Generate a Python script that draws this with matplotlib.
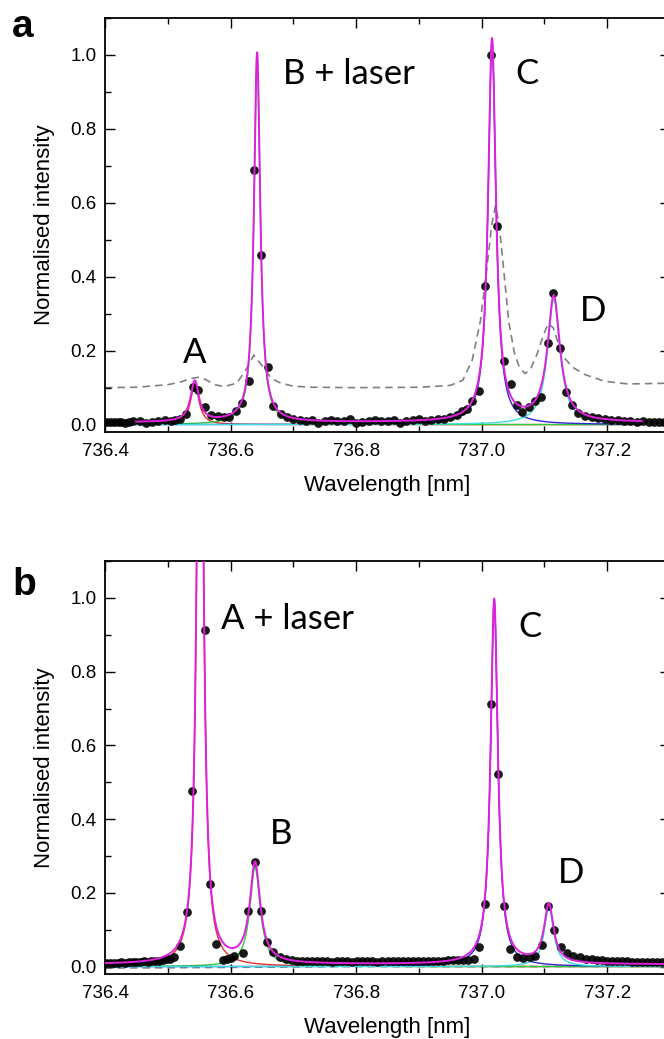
import numpy as np
import matplotlib
matplotlib.use("Agg")
import matplotlib.pyplot as plt
from matplotlib.ticker import MultipleLocator, FormatStrFormatter

plt.rcParams['font.family'] = ['Liberation Sans', 'DejaVu Sans']

# ---- panel a : measured points ----
a_wl = [736.402, 736.408, 736.414, 736.420, 736.426, 736.432, 736.438, 736.444,
        736.455, 736.465, 736.475, 736.485, 736.495, 736.505, 736.512, 736.520,
        736.529, 736.540, 736.548, 736.559, 736.569, 736.580, 736.590, 736.598,
        736.608, 736.619, 736.629, 736.638, 736.649, 736.659, 736.667, 736.680,
        736.690, 736.700, 736.710, 736.720, 736.730, 736.740, 736.750, 736.760,
        736.770, 736.780, 736.790, 736.800, 736.810, 736.820, 736.830, 736.840,
        736.850, 736.860, 736.870, 736.880, 736.890, 736.900, 736.910, 736.920,
        736.930, 736.940, 736.950, 736.960, 736.969, 736.976, 736.985, 736.995,
        737.006, 737.015, 737.025, 737.035, 737.046, 737.056, 737.064, 737.075,
        737.085, 737.095, 737.105, 737.114, 737.125, 737.134, 737.144, 737.154,
        737.165, 737.175, 737.186, 737.196, 737.206, 737.217, 737.227, 737.237,
        737.247, 737.257, 737.267, 737.275, 737.283, 737.291, 737.299]
a_int = [0.007, 0.006, 0.008, 0.006, 0.007, 0.005, 0.008, 0.009,
         0.010, 0.003, 0.006, 0.010, 0.012, 0.011, 0.012, 0.016,
         0.030, 0.103, 0.094, 0.047, 0.027, 0.024, 0.020, 0.020,
         0.038, 0.058, 0.119, 0.690, 0.460, 0.155, 0.051, 0.029,
         0.020, 0.015, 0.012, 0.010, 0.013, 0.004, 0.010, 0.012,
         0.009, 0.011, 0.014, 0.004, 0.008, 0.011, 0.012, 0.009,
         0.010, 0.013, 0.004, 0.010, 0.012, 0.014, 0.011, 0.013,
         0.015, 0.016, 0.020, 0.025, 0.036, 0.042, 0.065, 0.090,
         0.376, 0.999, 0.536, 0.173, 0.110, 0.054, 0.033, 0.047,
         0.065, 0.076, 0.220, 0.356, 0.207, 0.087, 0.054, 0.032,
         0.024, 0.020, 0.017, 0.014, 0.013, 0.012, 0.010, 0.011,
         0.008, 0.009, 0.007, 0.008, 0.007, 0.008, 0.007]

# panel a : broad reference spectrum (dashed)
a_ref_wl = [736.40, 736.45, 736.50, 736.52, 736.535, 736.548, 736.56, 736.575,
            736.59, 736.61, 736.625, 736.637, 736.65, 736.665, 736.68, 736.70,
            736.73, 736.80, 736.90, 736.95, 736.97, 736.985, 736.998, 737.008,
            737.016, 737.022, 737.028, 737.035, 737.043, 737.052, 737.060, 737.069,
            737.078, 737.088, 737.098, 737.106, 737.114, 737.122, 737.132, 737.145,
            737.165, 737.196, 737.233, 737.300]
a_ref_int = [0.100, 0.101, 0.108, 0.115, 0.124, 0.128, 0.122, 0.108,
             0.103, 0.112, 0.150, 0.188, 0.160, 0.125, 0.112, 0.104,
             0.101, 0.100, 0.101, 0.106, 0.120, 0.175, 0.280, 0.420,
             0.540, 0.592, 0.540, 0.420, 0.280, 0.195, 0.155, 0.138,
             0.150, 0.190, 0.240, 0.274, 0.262, 0.220, 0.180, 0.155,
             0.135, 0.117, 0.110, 0.112]

# panel a : Lorentzian fit (A, B, C, D)
a_centre = [736.543, 736.6423, 737.0165, 737.1148]
a_amp = [0.110, 1.000, 1.035, 0.338]
a_hwhm = [0.008, 0.006, 0.0075, 0.012]
a_offset = 0.006
a_fitrange = [736.45, 737.255]

# ---- panel b : measured points ----
b_wl = [736.402, 736.408, 736.414, 736.420, 736.426, 736.432, 736.438, 736.444,
        736.450, 736.456, 736.462, 736.468, 736.474, 736.480, 736.486, 736.492,
        736.498, 736.504, 736.510, 736.519, 736.530, 736.539, 736.560, 736.568,
        736.577, 736.588, 736.595, 736.600, 736.606, 736.620, 736.628, 736.639,
        736.649, 736.658, 736.668, 736.678, 736.688, 736.698, 736.706, 736.714,
        736.722, 736.730, 736.738, 736.746, 736.754, 736.762, 736.770, 736.778,
        736.786, 736.794, 736.802, 736.810, 736.818, 736.826, 736.834, 736.842,
        736.850, 736.858, 736.866, 736.874, 736.882, 736.890, 736.898, 736.906,
        736.914, 736.922, 736.930, 736.938, 736.946, 736.954, 736.962, 736.970,
        736.978, 736.987, 736.996, 737.006, 737.015, 737.026, 737.036, 737.045,
        737.056, 737.066, 737.077, 737.085, 737.096, 737.105, 737.115, 737.126,
        737.136, 737.146, 737.156, 737.166, 737.176, 737.184, 737.192, 737.200,
        737.208, 737.216, 737.224, 737.232, 737.240, 737.248, 737.256, 737.264,
        737.272, 737.280, 737.288, 737.296]
b_int = [0.010, 0.011, 0.010, 0.011, 0.012, 0.011, 0.012, 0.012,
         0.013, 0.012, 0.014, 0.013, 0.015, 0.016, 0.015, 0.017,
         0.020, 0.022, 0.026, 0.055, 0.147, 0.477, 0.913, 0.224,
         0.062, 0.019, 0.020, 0.024, 0.030, 0.037, 0.152, 0.285,
         0.152, 0.068, 0.040, 0.027, 0.020, 0.017, 0.016, 0.015,
         0.015, 0.014, 0.015, 0.014, 0.014, 0.013, 0.014, 0.015,
         0.014, 0.013, 0.014, 0.014, 0.015, 0.014, 0.013, 0.014,
         0.014, 0.015, 0.014, 0.014, 0.015, 0.014, 0.015, 0.015,
         0.016, 0.015, 0.016, 0.016, 0.017, 0.017, 0.018, 0.018,
         0.019, 0.022, 0.053, 0.170, 0.713, 0.522, 0.164, 0.049,
         0.026, 0.024, 0.026, 0.030, 0.059, 0.165, 0.098, 0.053,
         0.036, 0.029, 0.025, 0.022, 0.020, 0.018, 0.017, 0.016,
         0.015, 0.015, 0.014, 0.014, 0.013, 0.013, 0.013, 0.012,
         0.012, 0.012, 0.012, 0.012]

# panel b : reference spectrum (dashed, near zero)
b_ref_wl = [736.40, 736.60, 736.80, 737.00, 737.30]
b_ref_int = [-0.004, -0.002, 0.000, 0.000, 0.001]

# panel b : Lorentzian fit (A, B, C, D)
b_centre = [736.5515, 736.639, 737.020, 737.107]
b_amp = [2.20, 0.270, 0.990, 0.160]
b_hwhm = [0.0055, 0.010, 0.007, 0.009]
b_offset = 0.006
b_fitrange = [736.40, 737.30]

comp_colors = ['#e8302c', '#2fc83a', '#2a2ad0', '#3adede']
fit_color = '#dd22dd'


def lorentz(x, c, a, w):
    return a / (1.0 + ((x - c) / w) ** 2)


def drawPanel(ax, wl, inten, ref_wl, ref_int, centre, amp, hwhm, offset, fitrange):
    x = np.linspace(fitrange[0], fitrange[1], 3000)
    total = np.full_like(x, offset)
    for c, a, w, col in zip(centre, amp, hwhm, comp_colors):
        comp = lorentz(x, c, a, w)
        total += comp
        ax.plot(x, comp, color=col, lw=1.0, zorder=2)
    ax.plot(ref_wl, ref_int, color='#808080', lw=1.2, ls=(0, (4.5, 3)), zorder=1)
    ax.plot(wl, inten, 'o', color='black', ms=6.3, alpha=0.9, mec='none', zorder=3)
    ax.plot(x, total, color=fit_color, lw=1.4, zorder=4)

    ax.set_xlim(736.4, 737.3)
    ax.set_ylim(-0.02, 1.1)
    ax.xaxis.set_major_locator(MultipleLocator(0.2))
    ax.xaxis.set_minor_locator(MultipleLocator(0.1))
    ax.yaxis.set_major_locator(MultipleLocator(0.2))
    ax.yaxis.set_minor_locator(MultipleLocator(0.1))
    ax.xaxis.set_major_formatter(FormatStrFormatter('%.1f'))
    ax.yaxis.set_major_formatter(FormatStrFormatter('%.1f'))
    ax.tick_params(which='both', direction='in', top=True, right=True,
                   labelsize=13.5, width=1.0)
    ax.tick_params(which='major', length=7)
    ax.tick_params(which='minor', length=4)
    ax.tick_params(axis='x', pad=8)
    ax.tick_params(axis='y', pad=6)
    for s in ax.spines.values():
        s.set_linewidth(1.3)
    ax.set_xlabel('Wavelength [nm]', fontsize=16, labelpad=11)
    ax.set_ylabel('Normalised intensity', fontsize=16, labelpad=11)


fig = plt.figure(figsize=(6.64, 10.39), dpi=100)
W, H = 664.0, 1039.0
ax1 = fig.add_axes([105 / W, 1 - 432 / H, (670 - 105) / W, (432 - 18) / H])
ax2 = fig.add_axes([105 / W, 1 - 974 / H, (670 - 105) / W, (974 - 561) / H])

drawPanel(ax1, a_wl, a_int, a_ref_wl, a_ref_int, a_centre, a_amp, a_hwhm, a_offset, a_fitrange)
drawPanel(ax2, b_wl, b_int, b_ref_wl, b_ref_int, b_centre, b_amp, b_hwhm, b_offset, b_fitrange)

lab = dict(fontsize=25, family=['Lato', 'DejaVu Sans'], ha='left', va='baseline')
ax1.text(736.683, 0.922, 'B + laser', **lab)
ax1.text(737.054, 0.922, 'C', **lab)
ax1.text(736.524, 0.168, 'A', **lab)
ax1.text(737.157, 0.281, 'D', **lab)
ax2.text(736.585, 0.916, 'A + laser', **lab)
ax2.text(737.058, 0.893, 'C', **lab)
ax2.text(736.662, 0.332, 'B', **lab)
ax2.text(737.122, 0.228, 'D', **lab)

fig.text(12 / W, 1 - 37 / H, 'a', fontsize=28, fontweight='bold', va='baseline')
fig.text(12 / W, 1 - 595 / H, 'b', fontsize=28, fontweight='bold', va='baseline')

fig.savefig('out.png', dpi=100)
